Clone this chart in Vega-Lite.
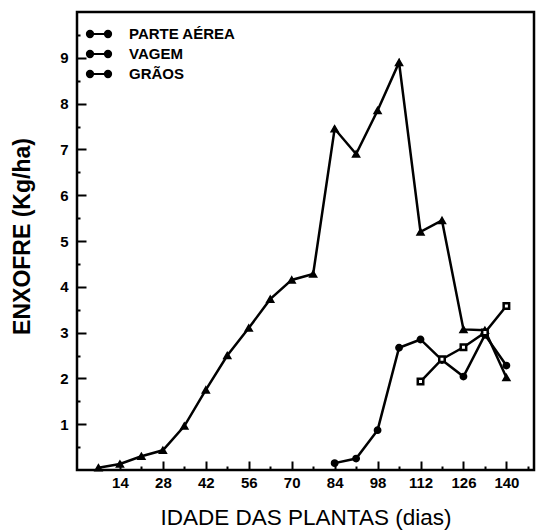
{
  "$schema": "https://vega.github.io/schema/vega-lite/v6.json",
  "width": 457,
  "height": 458,
  "autosize": "none",
  "padding": {"left": 77, "top": 12, "right": 2, "bottom": 62},
  "background": "white",
  "config": {
    "view": {"stroke": "black", "strokeWidth": 2.5},
    "font": "Liberation Sans"
  },
  "data": {
    "values": [
      {"serie": "PARTE AÉREA", "dia": 7, "s": 0.05},
      {"serie": "PARTE AÉREA", "dia": 14, "s": 0.13},
      {"serie": "PARTE AÉREA", "dia": 21, "s": 0.3},
      {"serie": "PARTE AÉREA", "dia": 28, "s": 0.43},
      {"serie": "PARTE AÉREA", "dia": 35, "s": 0.96},
      {"serie": "PARTE AÉREA", "dia": 42, "s": 1.75},
      {"serie": "PARTE AÉREA", "dia": 49, "s": 2.5},
      {"serie": "PARTE AÉREA", "dia": 56, "s": 3.1},
      {"serie": "PARTE AÉREA", "dia": 63, "s": 3.73},
      {"serie": "PARTE AÉREA", "dia": 70, "s": 4.15},
      {"serie": "PARTE AÉREA", "dia": 77, "s": 4.28},
      {"serie": "PARTE AÉREA", "dia": 84, "s": 7.45},
      {"serie": "PARTE AÉREA", "dia": 91, "s": 6.9},
      {"serie": "PARTE AÉREA", "dia": 98, "s": 7.85},
      {"serie": "PARTE AÉREA", "dia": 105, "s": 8.9},
      {"serie": "PARTE AÉREA", "dia": 112, "s": 5.2},
      {"serie": "PARTE AÉREA", "dia": 119, "s": 5.45},
      {"serie": "PARTE AÉREA", "dia": 126, "s": 3.07},
      {"serie": "PARTE AÉREA", "dia": 133, "s": 3.05},
      {"serie": "PARTE AÉREA", "dia": 140, "s": 2.02},
      {"serie": "VAGEM", "dia": 84, "s": 0.15},
      {"serie": "VAGEM", "dia": 91, "s": 0.25},
      {"serie": "VAGEM", "dia": 98, "s": 0.87},
      {"serie": "VAGEM", "dia": 105, "s": 2.67},
      {"serie": "VAGEM", "dia": 112, "s": 2.85},
      {"serie": "VAGEM", "dia": 119, "s": 2.4},
      {"serie": "VAGEM", "dia": 126, "s": 2.04},
      {"serie": "VAGEM", "dia": 133, "s": 2.95},
      {"serie": "VAGEM", "dia": 140, "s": 2.28},
      {"serie": "GRÃOS", "dia": 112, "s": 1.93},
      {"serie": "GRÃOS", "dia": 119, "s": 2.42},
      {"serie": "GRÃOS", "dia": 126, "s": 2.68},
      {"serie": "GRÃOS", "dia": 133, "s": 3.0},
      {"serie": "GRÃOS", "dia": 140, "s": 3.58}
    ]
  },
  "encoding": {
    "x": {
      "field": "dia",
      "type": "quantitative",
      "scale": {"domain": [0, 149], "nice": false, "zero": false},
      "axis": {
        "values": [7, 14, 21, 28, 35, 42, 49, 56, 63, 70, 77, 84, 91, 98, 105, 112, 119, 126, 133, 140, 147],
        "labelExpr": "datum.value % 14 === 0 ? datum.label : ''",
        "tickSize": {"condition": {"test": "datum.value % 14 === 0", "value": -9}, "value": -4},
        "tickColor": "black",
        "tickWidth": 2,
        "domain": false,
        "grid": false,
        "labelFont": "Liberation Sans",
        "labelFontSize": 15,
        "labelFontWeight": "bold",
        "labelColor": "black",
        "labelPadding": 14,
        "title": "IDADE DAS PLANTAS (dias)",
        "titleFont": "Liberation Sans",
        "titleFontSize": 22.5,
        "titleFontWeight": "normal",
        "titleColor": "black",
        "titlePadding": 16
      }
    },
    "y": {
      "field": "s",
      "type": "quantitative",
      "scale": {"domain": [0, 10], "nice": false},
      "axis": {
        "values": [0.5, 1, 1.5, 2, 2.5, 3, 3.5, 4, 4.5, 5, 5.5, 6, 6.5, 7, 7.5, 8, 8.5, 9, 9.5],
        "labelExpr": "datum.value % 1 === 0 ? format(datum.value, 'd') : ''",
        "tickSize": {"condition": {"test": "datum.value % 1 === 0", "value": -9}, "value": -3},
        "tickColor": "black",
        "tickWidth": 2,
        "domain": false,
        "grid": false,
        "labelFont": "Liberation Sans",
        "labelFontSize": 15,
        "labelFontWeight": "bold",
        "labelColor": "black",
        "labelPadding": 18,
        "title": "ENXOFRE (Kg/ha)",
        "titleFont": "Liberation Sans",
        "titleFontSize": 23,
        "titleFontWeight": "bold",
        "titleColor": "black",
        "titlePadding": 25,
        "titleY": 224
      }
    }
  },
  "layer": [
    {
      "mark": {"type": "line", "strokeWidth": 2.5},
      "encoding": {
        "color": {
          "field": "serie",
          "type": "nominal",
          "scale": {"domain": ["PARTE AÉREA", "VAGEM", "GRÃOS"], "range": ["black", "black", "black"]},
          "legend": {
            "orient": "top-left",
            "offset": 8,
            "title": null,
            "symbolType": "M-1,0L1,0M-0.65,0A0.35,0.35,0,1,1,-1.35,0A0.35,0.35,0,1,1,-0.65,0ZM1.35,0A0.35,0.35,0,1,1,0.65,0A0.35,0.35,0,1,1,1.35,0Z",
            "symbolSize": 324,
            "symbolStrokeWidth": 2,
            "symbolFillColor": "black",
            "symbolStrokeColor": "black",
            "labelFont": "Liberation Sans",
            "labelFontSize": 15,
            "labelFontWeight": "bold",
            "labelColor": "black",
            "labelOffset": 20,
            "rowPadding": 2,
            "padding": 4
          }
        }
      }
    },
    {
      "transform": [{"filter": "datum.serie === 'PARTE AÉREA'"}],
      "mark": {"type": "point", "shape": "triangle-up", "filled": true, "fill": "black", "stroke": "black", "strokeWidth": 1.5, "opacity": 1, "size": 50}
    },
    {
      "transform": [{"filter": "datum.serie === 'VAGEM'"}],
      "mark": {"type": "point", "shape": "circle", "filled": true, "fill": "black", "stroke": "black", "strokeWidth": 1.5, "opacity": 1, "size": 40}
    },
    {
      "transform": [{"filter": "datum.serie === 'GRÃOS'"}],
      "mark": {"type": "point", "shape": "square", "filled": true, "fill": "white", "stroke": "black", "strokeWidth": 2.5, "opacity": 1, "size": 30}
    }
  ]
}
